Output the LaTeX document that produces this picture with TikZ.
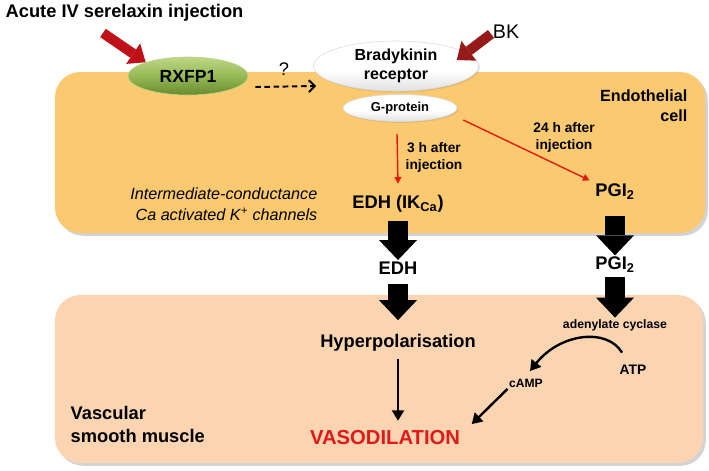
\documentclass[tikz,border=0pt]{standalone}
\usepackage{fontspec}
\setmainfont{Liberation Sans}
\usetikzlibrary{arrows.meta,shapes.geometric,shadows,calc}

\definecolor{endocell}{RGB}{250,201,112}
\definecolor{smcell}{RGB}{251,213,178}
\definecolor{rxtop}{RGB}{190,214,135}
\definecolor{rxmid}{RGB}{150,186,86}
\definecolor{rxdark}{RGB}{104,138,46}
\definecolor{injred}{RGB}{192,16,24}
\definecolor{bkred}{RGB}{150,26,26}
\definecolor{pathred}{RGB}{232,24,16}
\definecolor{vasored}{RGB}{225,25,25}
\pgfdeclareverticalshading{recshade}{100bp}{color(0bp)=(black!38); color(22bp)=(black!14); color(45bp)=(white); color(100bp)=(white)}

\begin{document}
\begin{tikzpicture}[x=0.025cm, y=-0.025cm,
  bigtxt/.style={inner sep=1pt, font=\fontsize{13}{15}\selectfont\bfseries},
  notetxt/.style={inner sep=1pt, align=center, font=\fontsize{9.8}{12}\selectfont\bfseries},
  recgreen/.style={ellipse, inner sep=0pt, minimum width=3cm, minimum height=0.95cm,
     draw=rxtop, top color=rxtop, bottom color=rxdark, middle color=rxmid,
     font=\fontsize{12.5}{14}\selectfont\bfseries},
  recwhite/.style={ellipse, inner sep=0pt, align=center, draw=black!14, line width=0.4pt,
     shade, shading=recshade,
     drop shadow={shadow xshift=1pt, shadow yshift=-1pt, opacity=.2}},
  cellbox/.style={rounded corners=18pt, drop shadow={shadow xshift=2pt, shadow yshift=-2pt, opacity=.35}},
  blockarrow/.style={line width=0.5cm, -{Triangle[length=0.5cm, width=0.95cm, line width=0pt]}},
  thickred/.style={line width=0.25cm, -{Triangle[length=0.38cm, width=0.62cm, line width=0pt]}},
  redarrow/.style={pathred, line width=1pt, -{Triangle[length=0.17cm, width=0.17cm]}},
  blackarrow/.style={line width=1.7pt, -{Triangle[length=0.26cm, width=0.3cm]}},
  dasharrow/.style={line width=1.4pt, dash pattern=on 4pt off 2.5pt, -{Straight Barb[length=0.15cm, width=0.3cm]}}
]
\useasboundingbox (0,0) rectangle (709,470);
% cells
\fill[endocell, cellbox] (55,72) rectangle (705,233);
\fill[smcell, cellbox] (55,295) rectangle (703,463);

% receptors
\node[recgreen] (rxfp) at (188,76) {RXFP1};
\node[recwhite, minimum width=4.125cm, minimum height=1.25cm, font=\fontsize{11.4}{13.5}\selectfont\bfseries] (brad) at (396,66) {Bradykinin\\receptor};
\node[recwhite, minimum width=2.85cm, minimum height=0.675cm, font=\fontsize{9.2}{11}\selectfont\bfseries] (gprot) at (400,108) {G-protein};

% texts
\node[bigtxt, anchor=west] (title) at (4,13) {Acute IV serelaxin injection};
\node[inner sep=1pt, font=\fontsize{14}{16}\selectfont] (bk) at (506,32) {BK};
\node[inner sep=1pt, font=\fontsize{13}{15}\selectfont] (qmark) at (284,69) {?};
\node[inner sep=1pt, align=right, anchor=north east, font=\fontsize{11.5}{14.2}\selectfont\bfseries] (endo) at (689,88) {Endothelial\\cell};
\node[inner sep=1pt, align=right, anchor=east, font=\fontsize{11.5}{15}\selectfont\itshape] (ikca) at (319,204) {Intermediate-conductance\\Ca activated K\textsuperscript{+} channels};
\node[notetxt] (at3h) at (434,157) {3 h after\\injection};
\node[notetxt] (at24h) at (564,137) {24 h after\\injection};
\node[bigtxt] (edhik) at (398,204) {EDH (IK\textsubscript{Ca})};
\node[bigtxt] (pgi) at (615,192) {PGI\textsubscript{2}};
\node[bigtxt] (edh) at (398,268) {EDH};
\node[bigtxt] (pgib) at (615,265) {PGI\textsubscript{2}};
\node[bigtxt] (hyper) at (398,343) {Hyperpolarisation};
\node[notetxt, font=\fontsize{8.7}{10}\selectfont\bfseries] (adcy) at (615,325) {adenylate cyclase};
\node[notetxt] (atp) at (633,370) {ATP};
\node[notetxt, font=\fontsize{8.6}{10}\selectfont\bfseries] (camp) at (526,383) {cAMP};
\node[bigtxt, vasored, font=\fontsize{14.4}{16}\selectfont\bfseries] (vaso) at (385,438) {VASODILATION};
\node[inner sep=1pt, align=left, anchor=west, font=\fontsize{13}{16.4}\selectfont\bfseries] (vsm) at (69,424) {Vascular\\smooth muscle};

% connectors
\coordinate (injtail) at (103,33);
\coordinate (bktail) at (491,34);
\draw[thickred, injred] (injtail) -- (rxfp.162);
\draw[thickred, bkred] (bktail) -- ($(brad.east)+(-22,-6)$);
\draw[dasharrow] ($(rxfp.east)+(7,11)$) -- ($(brad.west)+(3,20)$);
\draw[redarrow] ($(gprot.south)+(-3,12)$) -- ($(edhik.north)+(0,-10)$);
\draw[redarrow] ($(gprot.east)+(6,12)$) -- ($(pgi.north west)+(-4,-2)$);
\draw[blockarrow, shorten <=5pt] (edhik) -- (edh);
\draw[blockarrow, shorten <=6pt, shorten >=9pt] (edh) -- (hyper);
\draw[blockarrow, shorten <=10pt] (pgi) -- (pgib);
\draw[blockarrow, shorten <=2pt] (pgib) -- (adcy);
\draw[blackarrow] ($(atp.north west)+(4,-11)$) .. controls +(-15,-25) and +(30,-38) .. ($(camp.north)+(4,-6)$);
\draw[blackarrow] (camp.south west) -- ($(vaso.north east)+(10,-5)$);
\draw[blackarrow, shorten <=4pt, shorten >=6pt] (hyper.south) -- (hyper.south |- vaso.north);
\end{tikzpicture}
\end{document}
